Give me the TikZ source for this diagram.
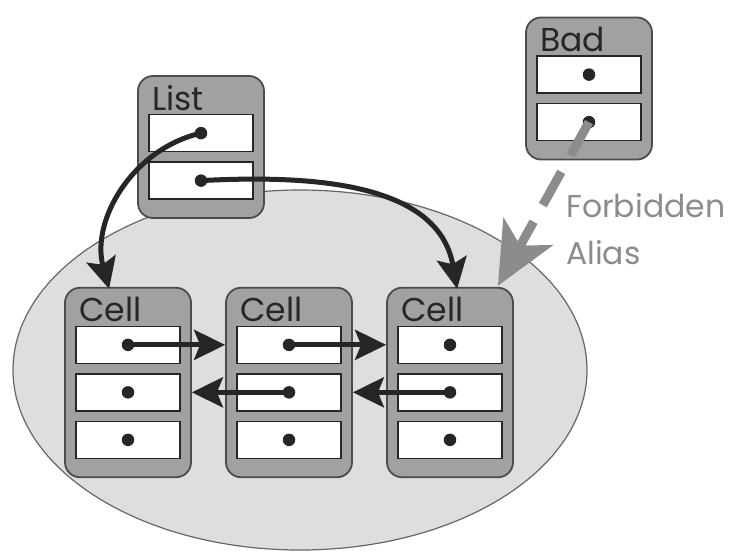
\documentclass[tikz,border=0pt]{standalone}
\usepackage{fontspec}
\setmainfont{Poppins}
\usetikzlibrary{arrows.meta,shapes.geometric}
\tikzset{
  heap/.style={ellipse,draw=black!60,line width=1.2pt,fill=black!13,minimum width=574pt,minimum height=360pt},
  obj/.style={draw=black!70,line width=1.8pt,fill=black!37,rounded corners=15pt,minimum width=126pt},
  slot/.style={draw=black!85,line width=1.3pt,fill=white,minimum width=104pt,minimum height=37pt,inner sep=0pt},
  dot/.style={circle,fill=black!85,inner sep=0pt,minimum size=12.5pt},
  objname/.style={anchor=base west,inner sep=0pt,text=black!85,font=\fontsize{33}{40}\selectfont},
  ref/.style={line width=5pt,draw=black!85,-{Stealth[length=31pt,width=30pt,inset=6pt]}},
  alias/.style={line width=9pt,draw=black!45,dash pattern=on 38pt off 19pt,-{Stealth[length=62pt,width=56pt,inset=16pt,fill=black!45]}},
  note/.style={anchor=base west,inner sep=0pt,text=black!45,font=\fontsize{31.5}{38}\selectfont}
}
\begin{document}
\begin{tikzpicture}[x=1pt,y=-1pt]
\useasboundingbox (0,0) rectangle (731,552);
\node[heap] (heap) at (300,370) {};
\foreach \n/\x/\y/\k/\t in {list/201/147/2/List,bad/589/88.5/2/Bad,cellA/128/382.5/3/Cell,cellB/289/382.5/3/Cell,cellC/450/382.5/3/Cell}{
  \node[obj,minimum height=47pt+47.5pt*\k] (\n) at (\x,\y) {};
  \node[objname] (\n-name) at ([xshift=15pt,yshift=-35pt]\n.north west) {\t};
  \foreach \i in {1,...,\k}{
    \node[slot] (\n-\i) at ([yshift=-10.5pt-47.5pt*\i]\n.north) {};
    \node[dot] (\n-d\i) at (\n-\i) {};
  }
}
\draw[ref] (cellA-d1.center) -- (cellA-d1 -| cellB.west);
\draw[ref] (cellB-d1.center) -- (cellB-d1 -| cellC.west);
\draw[ref] (cellB-d2.center) -- (cellB-d2 -| cellA.east);
\draw[ref] (cellC-d2.center) -- (cellC-d2 -| cellB.east);
\draw[ref] (list-d1.center) to[out=193,in=105] ([xshift=45pt,yshift=-2pt]cellA.north west);
\draw[ref] (list-d2.center) to[out=3,in=100] ([xshift=71pt,yshift=-2pt]cellC.north west);
\draw[alias] (bad-d2.center) -- ([xshift=-16pt,yshift=1pt]cellC.north east);
\node[note] (forbidden) at (566,217) {Forbidden};
\node[note] (alias) at (566,264) {Alias};
\end{tikzpicture}
\end{document}
